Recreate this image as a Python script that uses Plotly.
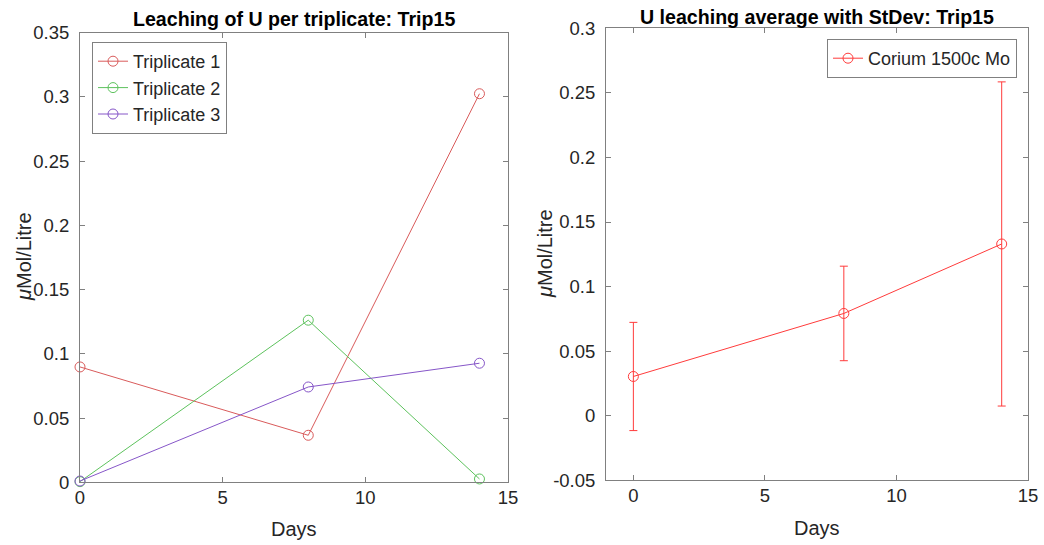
import plotly.graph_objects as go

W, H = 1044, 545

# Sampling days
days = [0, 8, 14]

# Uranium concentration per triplicate (µMol/Litre)
trip1 = [0.0898, 0.0366, 0.3025]
trip2 = [0.0005, 0.1262, 0.0026]
trip3 = [0.0010, 0.0742, 0.0927]

# Average and standard deviation over the triplicates
avg = [0.0304, 0.0792, 0.1330]
sd = [0.0419, 0.0366, 0.1255]

left_yticks = [0, 0.05, 0.1, 0.15, 0.2, 0.25, 0.3, 0.35]
left_ylabels = ["0", "0.05", "0.1", "0.15", "0.2", "0.25", "0.3", "0.35"]
right_yticks = [-0.05, 0, 0.05, 0.1, 0.15, 0.2, 0.25, 0.3]
right_ylabels = ["-0.05", "0", "0.05", "0.1", "0.15", "0.2", "0.25", "0.3"]
xticks = [0, 5, 10, 15]
xlabels = ["0", "5", "10", "15"]

FONT = "Liberation Sans, Arial, Helvetica, sans-serif"
TXT = "#262626"
AX = "#808080"
TICK_SIZE = 18.5
LABEL_SIZE = 20
TITLE_SIZE = 19.6

c1, c2, c3 = "#D95B5B", "#5DC25D", "#8656C8"
cavg = "#FF3B3B"


def px(x):
    return x / W


def py(y):
    return 1 - y / H


fig = go.Figure()

for name, vals, col in [("Triplicate 1", trip1, c1), ("Triplicate 2", trip2, c2), ("Triplicate 3", trip3, c3)]:
    fig.add_trace(go.Scatter(
        x=days, y=vals, name=name, mode="lines+markers",
        line=dict(color=col, width=1),
        marker=dict(symbol="circle-open", size=10, color=col, line=dict(width=1)),
        xaxis="x", yaxis="y", legend="legend", cliponaxis=False,
    ))

fig.add_trace(go.Scatter(
    x=days, y=avg, name="Corium 1500c Mo", mode="lines+markers",
    line=dict(color=cavg, width=1),
    marker=dict(symbol="circle-open", size=10, color=cavg, line=dict(width=1)),
    error_y=dict(type="data", array=sd, visible=True, color=cavg, thickness=1, width=4),
    xaxis="x2", yaxis="y2", legend="legend2", cliponaxis=False,
))

axis_common = dict(
    showgrid=False, zeroline=False, showline=True, linecolor=AX, linewidth=1,
    mirror="ticks", ticks="inside", ticklen=5, tickcolor=AX, tickwidth=1,
    tickfont=dict(family=FONT, size=TICK_SIZE, color=TXT), automargin=False,
)
xaxis_common = dict(ticklabelstandoff=-2, **axis_common)
yaxis_common = dict(ticklabelstandoff=6, **axis_common)

L = dict(x0=80, x1=508, y0=32.7, y1=482.3)
R = dict(x0=606, x1=1028, y0=28.3, y1=480.3)

legend_font = dict(family=FONT, size=18, color=TXT)

fig.update_layout(
    width=W, height=H,
    margin=dict(l=0, r=0, t=0, b=0, autoexpand=False),
    paper_bgcolor="white", plot_bgcolor="white",
    font=dict(family=FONT, color=TXT),
    xaxis=dict(domain=[px(L["x0"]), px(L["x1"])], range=[0, 15],
               tickvals=xticks, ticktext=xlabels, anchor="y", **xaxis_common),
    yaxis=dict(domain=[py(L["y1"]), py(L["y0"])], range=[0, 0.35],
               tickvals=left_yticks, ticktext=left_ylabels, anchor="x", **yaxis_common),
    xaxis2=dict(domain=[px(R["x0"]), px(R["x1"])], range=[-1.04, 15],
                tickvals=xticks, ticktext=xlabels, anchor="y2", **xaxis_common),
    yaxis2=dict(domain=[py(R["y1"]), py(R["y0"])], range=[-0.05, 0.3],
                tickvals=right_yticks, ticktext=right_ylabels, anchor="x2", **yaxis_common),
    legend=dict(x=px(92), y=py(42), xanchor="left", yanchor="top",
                bordercolor=AX, borderwidth=1, bgcolor="white",
                font=legend_font, itemwidth=30, tracegroupgap=0),
    legend2=dict(x=px(1017), y=py(39), xanchor="right", yanchor="top",
                 bordercolor=AX, borderwidth=1, bgcolor="white",
                 font=legend_font, itemwidth=30),
    showlegend=True,
)

annotations = [
    dict(text="<b>Leaching of U per triplicate: Trip15</b>", x=px(294), y=py(19), size=TITLE_SIZE),
    dict(text="<b>U leaching average with StDev: Trip15</b>", x=px(817), y=py(17), size=TITLE_SIZE),
    dict(text="Days", x=px(294), y=py(529), size=LABEL_SIZE),
    dict(text="Days", x=px(817), y=py(528), size=LABEL_SIZE),
    dict(text="<i>μ</i>Mol/Litre", x=px(24), y=py(257), size=LABEL_SIZE, angle=-90),
    dict(text="<i>μ</i>Mol/Litre", x=px(545), y=py(254), size=LABEL_SIZE, angle=-90),
]
for a in annotations:
    fig.add_annotation(
        text=a["text"], x=a["x"], y=a["y"], xref="paper", yref="paper",
        xanchor="center", yanchor="middle", showarrow=False,
        textangle=a.get("angle", 0),
        font=dict(family=FONT, size=a["size"], color="#000000" if "<b>" in a["text"] else TXT),
    )

fig.write_html("out.html")
